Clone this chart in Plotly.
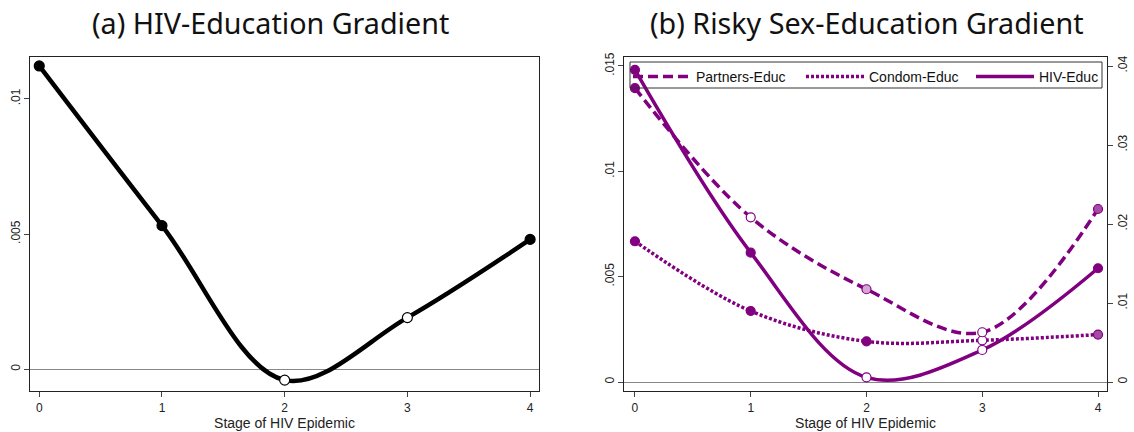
import plotly.graph_objects as go

# ---------------- data ----------------
stages = [0, 1, 2, 3, 4]
stage_labels = ["0", "1", "2", "3", "4"]

# Panel (a): HIV-Education gradient
hiv_a = [0.01121, 0.00531, -0.00040, 0.00191, 0.00480]
sig_a = ["sig", "sig", "none", "none", "sig"]

# Panel (b): left axis series
hiv_b = [0.01481, 0.00614, 0.00022, 0.00152, 0.00540]
sig_hiv_b = ["sig", "sig", "none", "none", "sig"]
condom_b = [0.00668, 0.00337, 0.00193, 0.00198, 0.00225]
sig_condom_b = ["sig", "sig", "sig", "none", "mid"]
# Panel (b): right axis series
partners_b = [0.0372, 0.02085, 0.01174, 0.0063, 0.0219]
sig_partners_b = ["sig", "none", "weak", "none", "mid"]

ya_ticks = [0, 0.005, 0.01]
ya_labels = ["0", ".005", ".01"]
yb_ticks = [0, 0.005, 0.01, 0.015]
yb_labels = ["0", ".005", ".01", ".015"]
yr_ticks = [0, 0.01, 0.02, 0.03, 0.04]
yr_labels = ["0", ".01", ".02", ".03", ".04"]

title_a = "(a) HIV-Education Gradient"
title_b = "(b) Risky Sex-Education Gradient"
x_title = "Stage of HIV Epidemic"

# ---------------- styles ----------------
PURPLE = "#800080"
fill_a = {"sig": "black", "none": "white"}
fill_b = {"sig": PURPLE, "none": "white", "weak": "#d4a6d4", "mid": "#a64ca6"}
FONT = "Liberation Sans, Arial, sans-serif"
W, H = 1134, 432

fig = go.Figure()

# Panel (a)
fig.add_trace(go.Scatter(x=stages, y=hiv_a, mode="lines", xaxis="x", yaxis="y",
                         line=dict(color="black", width=4.5, shape="spline", smoothing=1.0),
                         showlegend=False, hoverinfo="skip"))
fig.add_trace(go.Scatter(x=stages, y=hiv_a, mode="markers", xaxis="x", yaxis="y",
                         marker=dict(size=10, color=[fill_a[s] for s in sig_a],
                                     line=dict(color="black", width=1.2)),
                         showlegend=False))

# Panel (b) lines (each in its own legend box so entries can be placed freely)
fig.add_trace(go.Scatter(x=stages, y=partners_b, mode="lines", xaxis="x2", yaxis="y3",
                         name="Partners-Educ", legend="legend",
                         line=dict(color=PURPLE, width=3.5, dash="10px,5px", shape="spline", smoothing=1.0)))
fig.add_trace(go.Scatter(x=stages, y=condom_b, mode="lines", xaxis="x2", yaxis="y2",
                         name="Condom-Educ", legend="legend2",
                         line=dict(color=PURPLE, width=3.5, dash="3px,2px", shape="spline", smoothing=1.0)))
fig.add_trace(go.Scatter(x=stages, y=hiv_b, mode="lines", xaxis="x2", yaxis="y2",
                         name="HIV-Educ", legend="legend3",
                         line=dict(color=PURPLE, width=3.5, shape="spline", smoothing=1.0)))

# Panel (b) markers
for ys, sig, ax in [(partners_b, sig_partners_b, "y3"),
                    (condom_b, sig_condom_b, "y2"),
                    (hiv_b, sig_hiv_b, "y2")]:
    fig.add_trace(go.Scatter(x=stages, y=ys, mode="markers", xaxis="x2", yaxis=ax,
                             marker=dict(size=9, color=[fill_b[s] for s in sig],
                                         line=dict(color=PURPLE, width=1.2)),
                             showlegend=False))

axis_common = dict(showline=True, linecolor="#222", linewidth=1, mirror=True,
                   ticks="outside", ticklen=5, tickcolor="#444", showgrid=False,
                   tickfont=dict(family=FONT, size=12, color="#222"))

legend_common = dict(orientation="h", y=1 - 61 / H, xanchor="left", yanchor="top",
                     bgcolor="rgba(0,0,0,0)", borderwidth=0,
                     font=dict(family=FONT, size=14, color="#111"), itemwidth=58)

fig.update_layout(
    width=W, height=H,
    margin=dict(l=0, r=0, t=0, b=0),
    paper_bgcolor="white", plot_bgcolor="white",
    xaxis=dict(domain=[0.02672, 0.47504], range=[-0.073, 4.07],
               tickvals=stages, ticktext=stage_labels, zeroline=False,
               title=dict(text=x_title, font=dict(family=FONT, size=14, color="#222"), standoff=2),
               automargin=False, **axis_common),
    yaxis=dict(domain=[0.09421, 0.86736], range=[-0.000813, 0.01153],
               tickvals=ya_ticks, ticktext=ya_labels, tickangle=-90,
               zeroline=True, zerolinecolor="#888", zerolinewidth=1,
               automargin=False, **axis_common),
    xaxis2=dict(domain=[0.55053, 0.97593], range=[-0.092, 4.075], anchor="y2",
                tickvals=stages, ticktext=stage_labels, zeroline=False,
                title=dict(text=x_title, font=dict(family=FONT, size=14, color="#222"), standoff=2),
                automargin=False, **axis_common),
    yaxis2=dict(domain=[0.09421, 0.86875], range=[-0.000441, 0.01544], anchor="x2",
                tickvals=yb_ticks, ticktext=yb_labels, tickangle=-90,
                zeroline=True, zerolinecolor="#888", zerolinewidth=1,
                automargin=False, **axis_common),
    yaxis3=dict(range=[-0.001177, 0.04118], overlaying="y2", side="right", anchor="x2",
                tickvals=yr_ticks, ticktext=yr_labels, tickangle=-90,
                showline=True, linecolor="#222", linewidth=1, automargin=False,
                ticks="outside", ticklen=5, tickcolor="#444", showgrid=False, zeroline=False,
                tickfont=dict(family=FONT, size=12, color="#222")),
    legend=dict(x=628 / W, **legend_common),
    legend2=dict(x=801 / W, **legend_common),
    legend3=dict(x=971 / W, **legend_common),
    shapes=[
        dict(type="rect", xref="paper", yref="paper",
             x0=630 / W, x1=1102 / W, y0=1 - 88 / H, y1=1 - 62 / H,
             line=dict(color="#333", width=1), fillcolor="rgba(0,0,0,0)", layer="above"),
    ],
    annotations=[
        dict(text=title_a, x=270 / W, y=1 - 22 / H, xref="paper", yref="paper",
             showarrow=False, xanchor="center", yanchor="middle",
             font=dict(family="Noto Sans, sans-serif", size=28.7, color="#111")),
        dict(text=title_b, x=867 / W, y=1 - 22 / H, xref="paper", yref="paper",
             showarrow=False, xanchor="center", yanchor="middle",
             font=dict(family="Noto Sans, sans-serif", size=28.7, color="#111")),
    ],
)

fig.write_html("out.html", config={"displayModeBar": False},
               post_script="document.body.style.margin='0';document.body.style.padding='0';")
